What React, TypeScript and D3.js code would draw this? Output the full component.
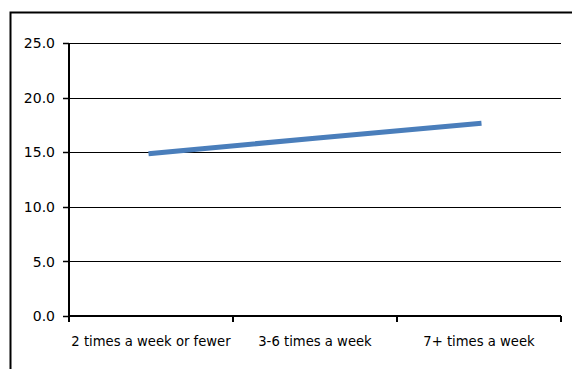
import React, { useEffect, useRef } from "react";
import * as d3 from "d3";

const categories = ["2 times a week or fewer", "3-6 times a week", "7+ times a week"];
const values = [14.9, 16.3, 17.65];
const yTicks = [0, 5, 10, 15, 20, 25];

const W = 572;
const H = 369;
const plot = { left: 69, right: 561, top: 43.3, bottom: 316 };

export default function App() {
  const ref = useRef<SVGSVGElement | null>(null);

  useEffect(() => {
    const svg = d3.select(ref.current);
    svg.selectAll("*").remove();

    const x = d3.scaleBand<string>().domain(categories).range([plot.left, plot.right]);
    const y = d3.scaleLinear().domain([0, 25]).range([plot.bottom, plot.top]);

    svg.append("rect").attr("width", W).attr("height", H).attr("fill", "#fff");

    // chart frame
    svg
      .append("rect")
      .attr("x", 10.5)
      .attr("y", 12.5)
      .attr("width", W + 20)
      .attr("height", H + 20)
      .attr("fill", "none")
      .attr("stroke", "#000")
      .attr("stroke-width", 2);

    // horizontal gridlines
    svg
      .append("g")
      .selectAll("line")
      .data(yTicks.filter((t) => t > 0))
      .join("line")
      .attr("x1", plot.left)
      .attr("x2", plot.right)
      .attr("y1", (d) => Math.round(y(d)) + 0.5)
      .attr("y2", (d) => Math.round(y(d)) + 0.5)
      .attr("stroke", "#000")
      .attr("stroke-width", 1);

    // y axis
    const yAxis = svg.append("g");
    yAxis
      .append("line")
      .attr("x1", plot.left)
      .attr("x2", plot.left)
      .attr("y1", plot.top)
      .attr("y2", plot.bottom + 6)
      .attr("stroke", "#000")
      .attr("stroke-width", 2);
    yAxis
      .selectAll("line.tick")
      .data(yTicks)
      .join("line")
      .attr("class", "tick")
      .attr("x1", plot.left - 6)
      .attr("x2", plot.left)
      .attr("y1", (d) => Math.round(y(d)) + 0.5)
      .attr("y2", (d) => Math.round(y(d)) + 0.5)
      .attr("stroke", "#000")
      .attr("stroke-width", 1.5);
    yAxis
      .selectAll("text")
      .data(yTicks)
      .join("text")
      .attr("x", 55)
      .attr("y", (d) => y(d))
      .attr("dy", "0.36em")
      .attr("text-anchor", "end")
      .attr("font-family", "DejaVu Sans, sans-serif")
      .attr("font-size", 14)
      .attr("fill", "#000")
      .text((d) => d3.format(".1f")(d));

    // x axis
    const xAxis = svg.append("g");
    xAxis
      .append("line")
      .attr("x1", plot.left)
      .attr("x2", plot.right)
      .attr("y1", plot.bottom)
      .attr("y2", plot.bottom)
      .attr("stroke", "#000")
      .attr("stroke-width", 2);
    const edges = [...categories.map((c) => x(c) as number), plot.right];
    xAxis
      .selectAll("line.tick")
      .data(edges)
      .join("line")
      .attr("class", "tick")
      .attr("x1", (d) => d)
      .attr("x2", (d) => d)
      .attr("y1", plot.bottom)
      .attr("y2", plot.bottom + 6)
      .attr("stroke", "#000")
      .attr("stroke-width", 2);
    xAxis
      .selectAll("text")
      .data(categories)
      .join("text")
      .attr("x", (d) => (x(d) as number) + x.bandwidth() / 2)
      .attr("y", 345.5)
      .attr("text-anchor", "middle")
      .attr("font-family", "DejaVu Sans, sans-serif")
      .attr("font-size", 13.2)
      .attr("fill", "#000")
      .text((d) => d);

    // series line
    const line = d3
      .line<number>()
      .x((_, i) => (x(categories[i]) as number) + x.bandwidth() / 2)
      .y((d) => y(d));
    svg
      .append("path")
      .datum(values)
      .attr("d", line)
      .attr("fill", "none")
      .attr("stroke", "#4A7EBB")
      .attr("stroke-width", 5)
      .attr("stroke-linejoin", "round")
      .attr("stroke-linecap", "square");
  }, []);

  return (
    <svg
      ref={ref}
      width={W}
      height={H}
      style={{ position: "absolute", left: 0, top: 0, display: "block" }}
    />
  );
}
